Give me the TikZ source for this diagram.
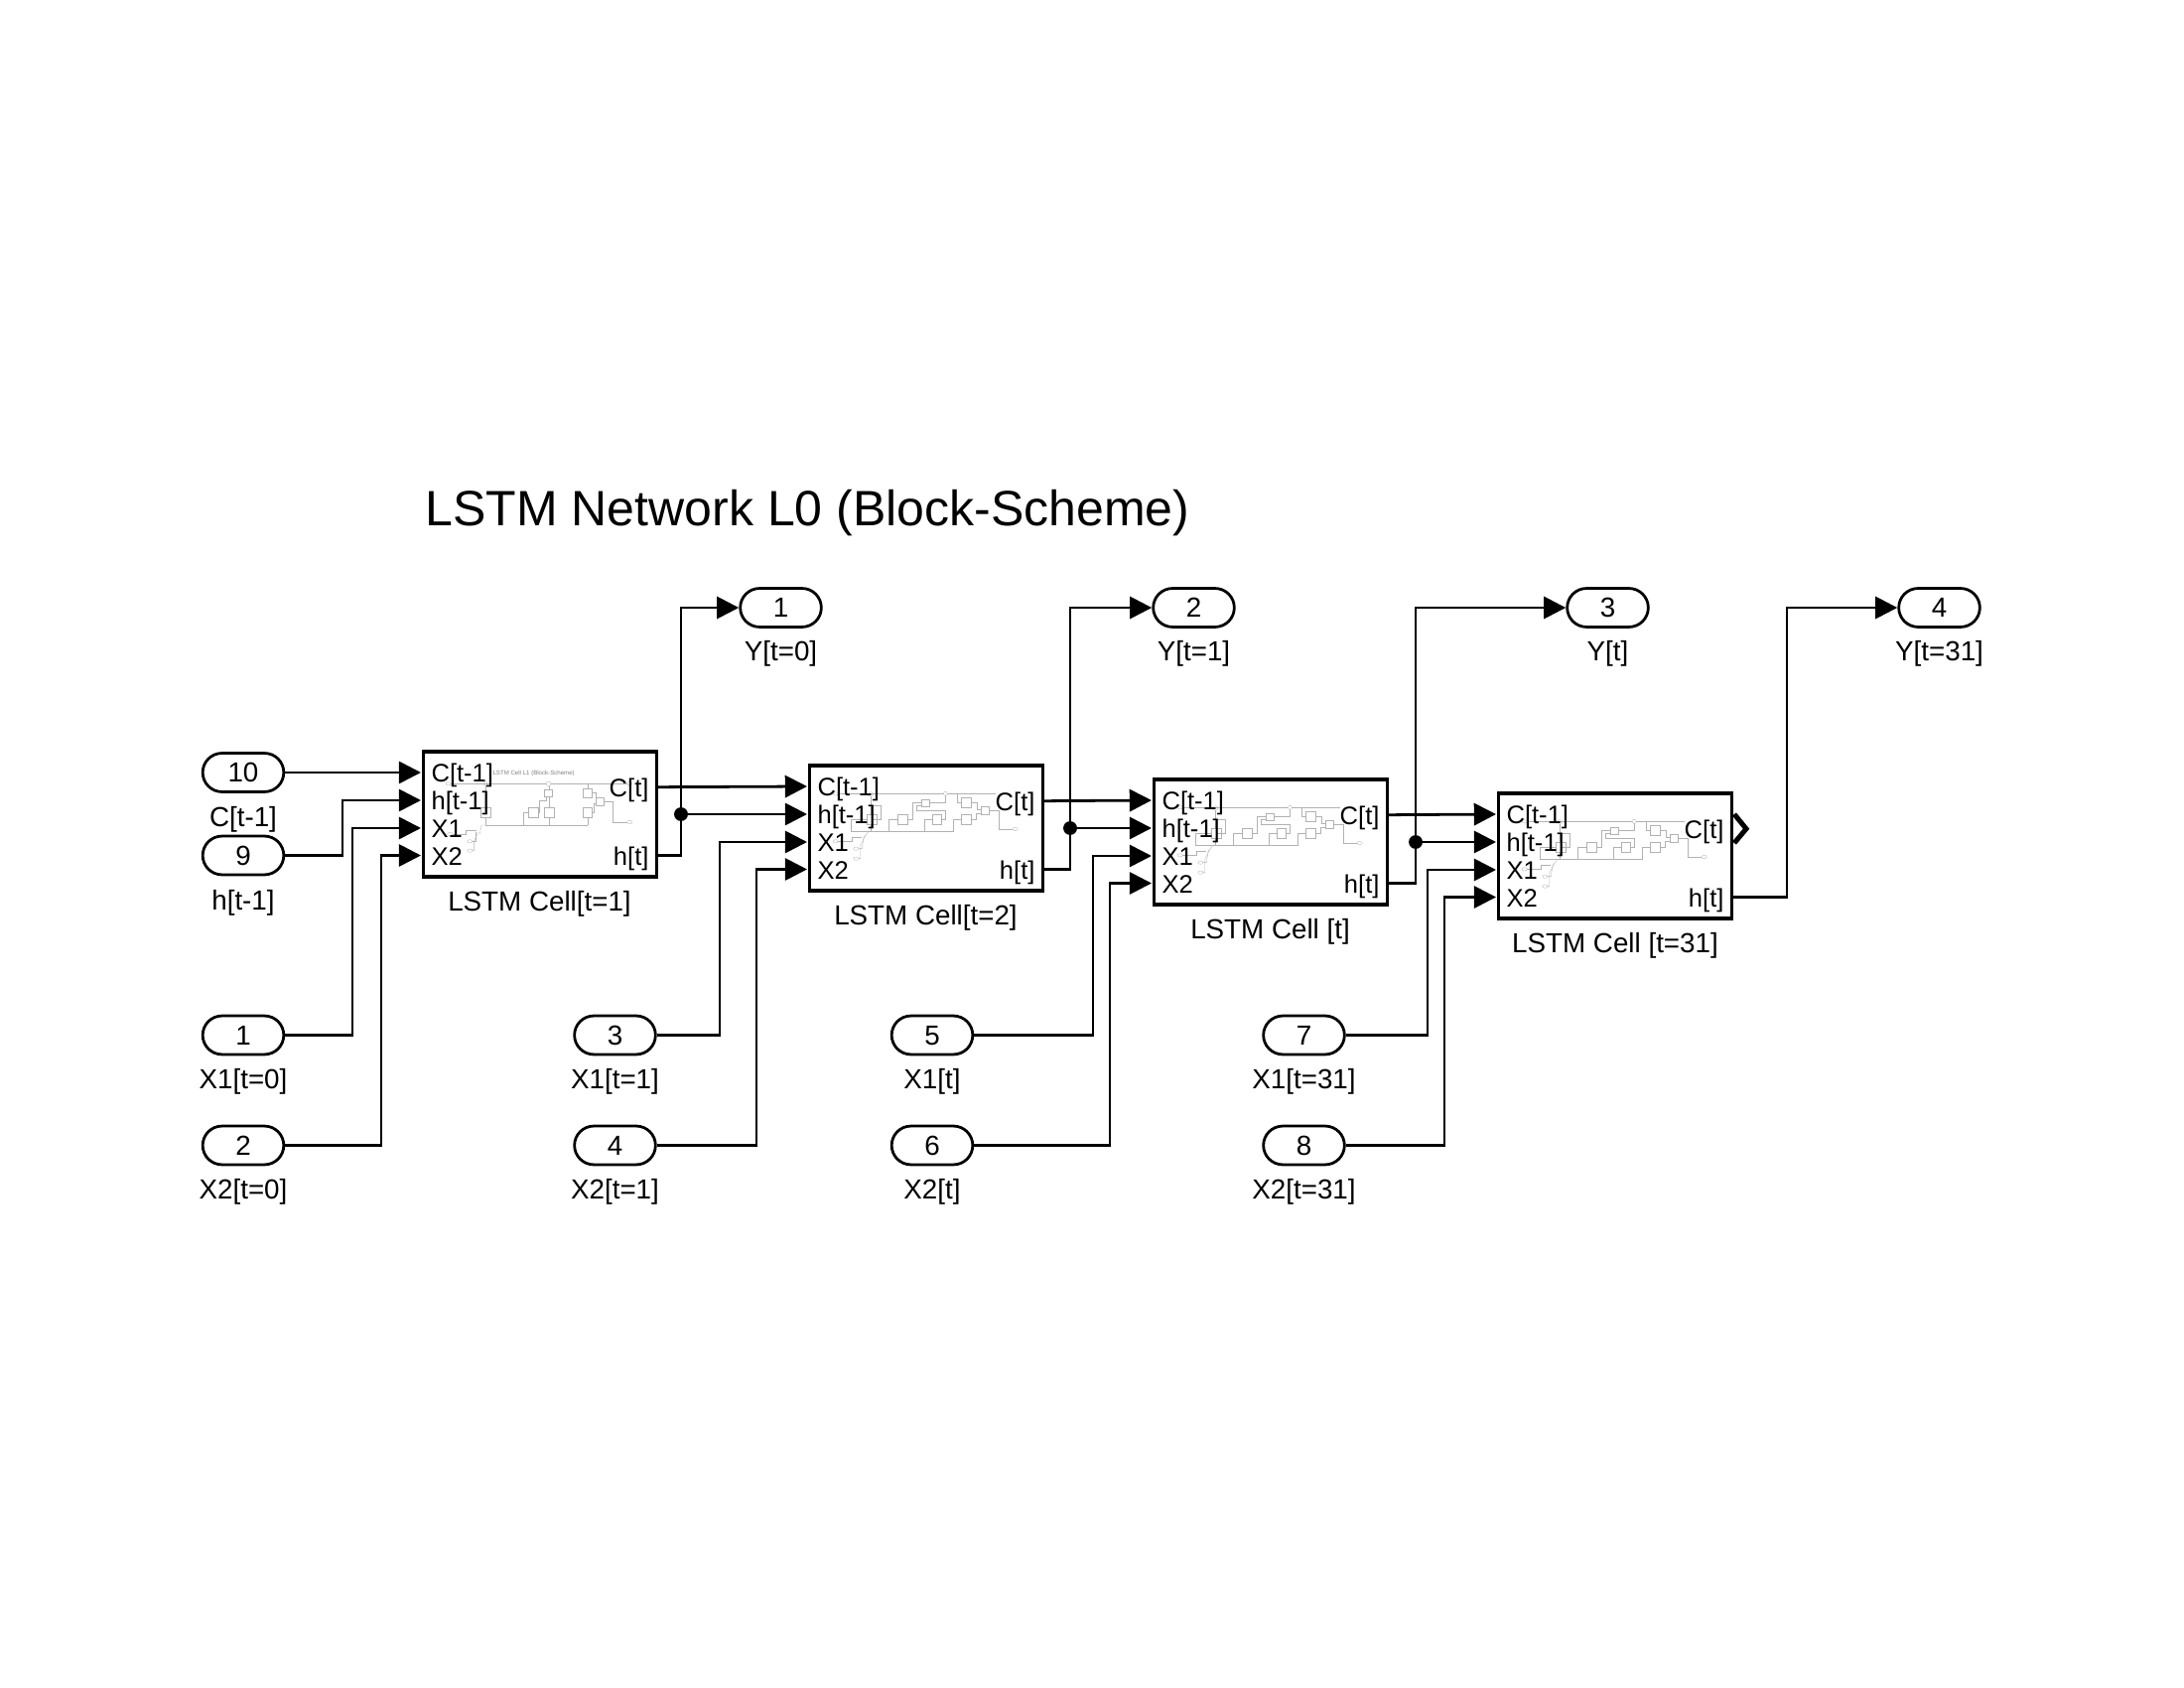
\documentclass[tikz,border=0pt]{standalone}
\usepackage{fontspec}
\setmainfont{Liberation Sans}
\usetikzlibrary{arrows.meta}
\newcommand\boxsm[4]{\draw[thumbline] (#1,#2) rectangle (#3,#4);}
\newcommand\ov[2]{\draw[thumbline] (#1,#2) ellipse (8 and 5);}
\newcommand\thumbA[2]{%
\begin{scope}[shift={(#1,#2)},scale=1/3]
\node[font=\fontsize{2.2}{2.5}\selectfont,text=black!50,inner sep=0,anchor=west] (thumbtitle) at (228,87) {LSTM Cell L1 (Block-Scheme)};
\ov{95}{118}\ov{100}{270}\ov{160}{292}\ov{160}{320}\ov{643}{118}\ov{643}{234}
\draw[thumbline] (103,118) -- (391,118) (405,118) -- (635,118);
\draw[thumbline] (398,118) circle (7);
\draw[thumbline] (207,118) circle (6);
\draw[thumbline] (207,124) -- (207,190) (207,220) -- (207,243) (207,243) -- (515,243);
\draw[thumbline] (108,270) -- (148,270) -- (148,258) -- (180,258);
\draw[thumbline] (168,292) -- (178,292) -- (178,265);
\draw[thumbline] (168,320) -- (172,320) -- (172,292) -- (185,265);
\draw[thumbline] (190,270) -- (195,243) -- (207,243);
\boxsm{193}{190}{223}{220}\boxsm{385}{135}{408}{158}\boxsm{385}{190}{415}{220}\boxsm{335}{190}{365}{220}
\boxsm{500}{133}{528}{160}\boxsm{500}{190}{528}{220}\boxsm{540}{160}{563}{183}
\draw[thumbline] (398,125) -- (398,135) (400,158) -- (400,190) (400,220) -- (400,243);
\draw[thumbline] (322,243) -- (322,205) -- (335,205);
\draw[thumbline] (365,205) -- (370,205) -- (370,170) -- (390,170) -- (390,158);
\draw[thumbline] (515,118) -- (515,133) (515,220) -- (515,243);
\draw[thumbline] (528,145) -- (540,145) -- (540,165);
\draw[thumbline] (528,205) -- (535,205) -- (535,178) -- (540,178);
\draw[thumbline] (563,172) -- (590,172) -- (590,234) -- (635,234);
\end{scope}}
\newcommand\thumbB[2]{%
\begin{scope}[shift={(#1,#2)},scale=1/3]
\ov{125}{88}\ov{125}{232}\ov{187}{254}\ov{187}{284}\ov{668}{195}
\draw[thumbline] (133,88) -- (451,88) (463,88) -- (610,88);
\draw[thumbline] (457,88) circle (6) (232,90) circle (7);
\boxsm{218}{152}{248}{182}\boxsm{235}{125}{260}{165}\boxsm{313}{152}{343}{182}\boxsm{418}{152}{445}{182}
\boxsm{383}{105}{407}{128}\boxsm{505}{100}{535}{130}\boxsm{505}{152}{535}{182}\boxsm{565}{128}{588}{150}
\draw[thumbline] (172,202) -- (480,202) -- (480,167) -- (505,167);
\draw[thumbline] (172,202) -- (172,165) -- (218,165);
\draw[thumbline] (232,97) -- (232,152) (232,182) -- (232,202);
\draw[thumbline] (285,202) -- (285,167) -- (313,167);
\draw[thumbline] (343,167) -- (357,167) -- (357,115) -- (383,115);
\draw[thumbline] (393,202) -- (393,167) -- (418,167);
\draw[thumbline] (445,167) -- (457,167) -- (457,140) -- (370,140) -- (370,125) -- (383,125);
\draw[thumbline] (407,115) -- (457,115) -- (457,94);
\draw[thumbline] (492,88) -- (492,115) -- (505,115);
\draw[thumbline] (535,115) -- (553,115) -- (553,135) -- (565,135);
\draw[thumbline] (535,167) -- (550,167) -- (550,147) -- (565,147);
\draw[thumbline] (588,140) -- (618,140) -- (618,195) -- (660,195);
\draw[thumbline] (133,232) -- (175,232) -- (175,220) -- (205,220);
\draw[thumbline] (195,254) -- (205,254) -- (210,220) -- (225,202);
\draw[thumbline] (195,284) -- (200,284) -- (200,245) -- (215,215);
\end{scope}}
\tikzset{
 thumbline/.style={draw=black!30,line width=0.12pt},
 txt/.style={font=\fontsize{10}{12}\selectfont,inner sep=0pt,text height=7.16pt,text depth=0pt},
 porttxt/.style={font=\fontsize{9.2}{11}\selectfont,inner sep=0pt,text height=6.6pt,text depth=0pt},
 titletxt/.style={font=\fontsize{18}{22}\selectfont,inner sep=0pt,text height=12.9pt,text depth=0pt,anchor=west},
 pill/.style={draw,line width=1pt,rounded corners=7pt,minimum width=29.4pt,minimum height=14pt,inner sep=0pt,font=\fontsize{10}{12}\selectfont,text height=7.16pt,text depth=0pt},
 cell/.style={draw,line width=1.15pt,minimum width=84.6pt,minimum height=45.3pt,inner sep=0pt,anchor=north west},
 conn/.style={line width=1pt,-{Triangle[width=8pt,length=8pt]}},
 wire/.style={line width=1pt},
 junction/.style={circle,fill=black,inner sep=0pt,minimum size=5pt}
}
\begin{document}
\begin{tikzpicture}[x=0.36pt,y=-0.36pt]
\useasboundingbox (0,0) rectangle (2200,1700);
\node[titletxt] (title) at (428,511.5) {LSTM Network L0 (Block-Scheme)};
% cells
\node[cell] (c1) at (424.5,755.5) {};
\node[cell] (c2) at (813.5,769.5) {};
\node[cell] (c3) at (1160.5,783.5) {};
\node[cell] (c4) at (1507.5,797.5) {};
% thumbnails
\thumbA{420}{750}
\thumbB{800}{770}
\thumbB{1147}{784}
\thumbB{1494}{798}
% port coordinates and labels
\foreach \c/\X/\Y in {c1/425/756,c2/814/770,c3/1161/784,c4/1508/798}{
 \coordinate (\c p1) at (\X-1,\Y+22);
 \coordinate (\c p2) at (\X-1,\Y+50);
 \coordinate (\c p3) at (\X-1,\Y+78);
 \coordinate (\c p4) at (\X-1,\Y+105.5);
 \coordinate (\c oC) at (\X+236,\Y+36.7);
 \coordinate (\c oh) at (\X+236,\Y+105.7);
 \node[porttxt,anchor=west] (\c lC) at (\X+9,\Y+22.5) {C[t-1]};
 \node[porttxt,anchor=west] (\c lh) at (\X+9,\Y+50.5) {h[t-1]};
 \node[porttxt,anchor=west] (\c lX) at (\X+9,\Y+78.5) {X1};
 \node[porttxt,anchor=west] (\c lY) at (\X+9,\Y+106) {X2};
 \node[porttxt,anchor=east] (\c rC) at (\X+229,\Y+37.2) {C[t]};
 \node[porttxt,anchor=east] (\c rh) at (\X+229,\Y+106.2) {h[t]};
}
% cell captions
\node[txt] (cap1) at (543.5,908) {LSTM Cell[t=1]};
\node[txt] (cap2) at (932.5,922) {LSTM Cell[t=2]};
\node[txt] (cap3) at (1279.5,936) {LSTM Cell [t]};
\node[txt] (cap4) at (1627,950) {LSTM Cell [t=31]};
% inports
\node[pill] (in10) at (245,778) {10};
\node[txt] (l10) at (245,823) {C[t-1]};
\node[pill] (in9) at (245,861.5) {9};
\node[txt] (l9) at (245,907) {h[t-1]};
\node[pill] (in1) at (245,1042.5) {1};
\node[txt] (l1) at (245,1087) {X1[t=0]};
\node[pill] (in2) at (245,1153.5) {2};
\node[txt] (l2) at (245,1198) {X2[t=0]};
\node[pill] (in3) at (619.5,1042.5) {3};
\node[txt] (l3) at (619.5,1087) {X1[t=1]};
\node[pill] (in4) at (619.5,1153.5) {4};
\node[txt] (l4) at (619.5,1198) {X2[t=1]};
\node[pill] (in5) at (939,1042.5) {5};
\node[txt] (l5) at (939,1087) {X1[t]};
\node[pill] (in6) at (939,1153.5) {6};
\node[txt] (l6) at (939,1198) {X2[t]};
\node[pill] (in7) at (1313.5,1042.5) {7};
\node[txt] (l7) at (1313.5,1087) {X1[t=31]};
\node[pill] (in8) at (1313.5,1153.5) {8};
\node[txt] (l8) at (1313.5,1198) {X2[t=31]};
% outports
\node[pill] (out1) at (786.5,612) {1};
\node[txt] (lo1) at (786.5,656) {Y[t=0]};
\node[pill] (out2) at (1202.5,612) {2};
\node[txt] (lo2) at (1202.5,656) {Y[t=1]};
\node[pill] (out3) at (1619.5,612) {3};
\node[txt] (lo3) at (1619.5,656) {Y[t]};
\node[pill] (out4) at (1953.5,612) {4};
\node[txt] (lo4) at (1953.5,656) {Y[t=31]};
% junctions
\node[junction] (j1) at (686,820) {};
\node[junction] (j2) at (1078,834) {};
\node[junction] (j3) at (1426,848) {};
% connectors: first cell
\draw[conn] (in10.east) -- (c1p1);
\draw[conn] (in9.east) -| (345,806) -- (c1p2);
\draw[conn] (in1.east) -| (355,834) -- (c1p3);
\draw[conn] (in2.east) -| (384,861.5) -- (c1p4);
\draw[conn] (c1oC) -- (c2p1);
\draw[wire] (c1oh) -| (j1.center);
\draw[conn] (j1.center) -- (686,612) -- (out1.west);
\draw[conn] (j1.center) -- (c2p2);
% second cell
\draw[conn] (in3.east) -| (725,848) -- (c2p3);
\draw[conn] (in4.east) -| (762,875.5) -- (c2p4);
\draw[conn] (c2oC) -- (c3p1);
\draw[wire] (c2oh) -| (j2.center);
\draw[conn] (j2.center) -- (1078,612) -- (out2.west);
\draw[conn] (j2.center) -- (c3p2);
% third cell
\draw[conn] (in5.east) -| (1101,862) -- (c3p3);
\draw[conn] (in6.east) -| (1118,889.5) -- (c3p4);
\draw[conn] (c3oC) -- (c4p1);
\draw[wire] (c3oh) -| (j3.center);
\draw[conn] (j3.center) -- (1426,612) -- (out3.west);
\draw[conn] (j3.center) -- (c4p2);
% fourth cell
\draw[conn] (in7.east) -| (1438,876) -- (c4p3);
\draw[conn] (in8.east) -| (1455,903.5) -- (c4p4);
\draw[conn] (c4oh) -| (1800,612) -- (out4.west);
% unconnected output chevron
\draw[line width=1.8pt,miter limit=4] (1747,820) -- (1759,834.7) -- (1747,849);
\end{tikzpicture}
\end{document}
